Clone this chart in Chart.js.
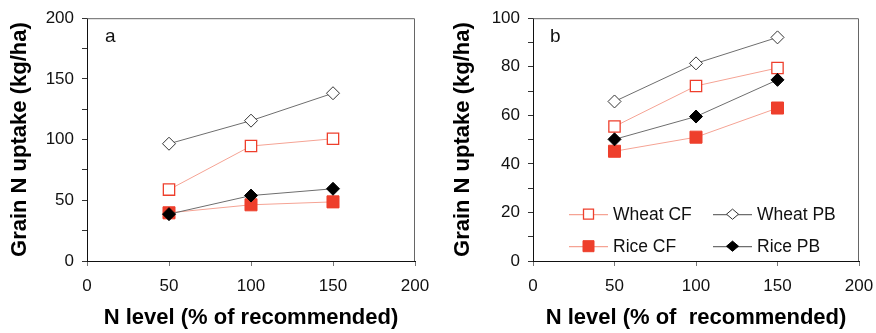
<!DOCTYPE html>
<html><head><meta charset="utf-8">
<script src="https://cdn.jsdelivr.net/npm/chart.js@4"></script>
<style>
html,body{margin:0;padding:0;background:#fff;}
#wrap{position:relative;width:876px;height:333px;overflow:hidden;}
#ca{position:absolute;left:0;top:0;}
#cb{position:absolute;left:440px;top:0;}
</style></head><body>
<div id="wrap">
<canvas id="ca" width="440" height="333"></canvas>
<canvas id="cb" width="436" height="333"></canvas>
</div>
<script>
// ---- data ----
const nLevels = [50, 100, 150];
const seriesNames = ['Wheat CF', 'Wheat PB', 'Rice CF', 'Rice PB'];
const xTitleA = 'N level (% of recommended)';
const xTitleB = 'N level (% of  recommended)';
const yTitle = 'Grain N uptake (kg/ha)';
// panel a
const aWheatCF = [58.8, 94.7, 100.7];
const aWheatPB = [96.6, 115.6, 138.2];
const aRiceCF  = [39.7, 46.3, 48.7];
const aRicePB  = [38.6, 53.9, 59.5];
// panel b
const bWheatCF = [55.4, 72.1, 79.5];
const bWheatPB = [65.7, 81.4, 92.1];
const bRiceCF  = [45.2, 51.0, 63.0];
const bRicePB  = [50.1, 59.5, 74.6];

const RED = '#ee3f2c';
const PINK = '#f5a394';
const GREY = '#6e6e6e';
const FAMILY = '"Liberation Sans", Arial, sans-serif';

function styleFor(name) {
  switch (name) {
    case 'Wheat CF': return {pointStyle:'rect', pointRadius:8, pointBackgroundColor:'#fff', pointBorderColor:RED, pointBorderWidth:1.3, borderColor:PINK, order:2};
    case 'Wheat PB': return {pointStyle:'rectRot', pointRadius:6.5, pointBackgroundColor:'#fff', pointBorderColor:'#333', pointBorderWidth:1, borderColor:GREY, order:3};
    case 'Rice CF':  return {pointStyle:'rect', pointRadius:8.5, pointBackgroundColor:RED, pointBorderColor:RED, pointBorderWidth:1, borderColor:PINK, order:1};
    case 'Rice PB':  return {pointStyle:'rectRot', pointRadius:6.5, pointBackgroundColor:'#000', pointBorderColor:'#000', pointBorderWidth:1, borderColor:GREY, order:0};
  }
}

function makeDatasets(vals) {
  return seriesNames.map((name, i) => Object.assign({
    label: name,
    data: nLevels.map((x, j) => ({x: x, y: vals[i][j]})),
    borderWidth: 1,
    fill: false,
    tension: 0,
    pointHoverRadius: 8
  }, styleFor(name)));
}

const framePlugin = {
  id: 'frame',
  afterDraw(chart, args, opts) {
    const {ctx, chartArea: a} = chart;
    ctx.save();
    ctx.strokeStyle = '#666';
    ctx.lineWidth = 1;
    ctx.beginPath();
    ctx.moveTo(a.left, a.top + 0.5);
    ctx.lineTo(a.right - 0.5, a.top + 0.5);
    ctx.lineTo(a.right - 0.5, a.bottom);
    ctx.stroke();
    ctx.fillStyle = '#111';
    ctx.font = '19px ' + FAMILY;
    ctx.textBaseline = 'middle';
    ctx.textAlign = 'left';
    ctx.fillText(opts.letter, a.left + opts.lx, a.top + 19);
    if (opts.legend) {
      const ds = chart.data.datasets;
      const pos = [[36, 196], [180, 196], [36, 228], [180, 228]];
      ds.forEach((d, i) => {
        const [x0, y] = pos[i];
        const x = a.left + x0;
        ctx.strokeStyle = d.borderColor;
        ctx.lineWidth = 1.3;
        ctx.beginPath();
        ctx.moveTo(x, a.top + y + 0.5);
        ctx.lineTo(x + 39, a.top + y + 0.5);
        ctx.stroke();
        const cx = x + 19.5, cy = a.top + y;
        ctx.fillStyle = d.pointBackgroundColor;
        ctx.strokeStyle = d.pointBorderColor;
        ctx.lineWidth = d.pointBorderWidth;
        ctx.beginPath();
        if (d.pointStyle === 'rect') {
          const s = d.label === 'Rice CF' ? 5.5 : 5;
          ctx.rect(cx - s, cy - s, 2 * s, 2 * s);
        } else {
          const r = 6;
          ctx.moveTo(cx - r, cy); ctx.lineTo(cx, cy - r * 0.85); ctx.lineTo(cx + r, cy); ctx.lineTo(cx, cy + r * 0.85); ctx.closePath();
        }
        ctx.fill(); ctx.stroke();
        ctx.fillStyle = '#111';
        ctx.font = '17.5px ' + FAMILY;
        ctx.textAlign = 'left';
        ctx.textBaseline = 'middle';
        ctx.fillText(d.label, x + 44, cy + 1);
      });
    }
    ctx.restore();
  }
};

const tickFont = {family: FAMILY, size: 17};
const titleFont = {family: FAMILY, size: 22, weight: 'bold'};

function makeChart(id, vals, yMax, yStep, yMajor, yWidth, yTitlePad, rightPad, xTitle, letter, letterX, legend) {
  return new Chart(document.getElementById(id), {
    type: 'line',
    data: {datasets: makeDatasets(vals)},
    plugins: [framePlugin],
    options: {
      responsive: false,
      animation: false,
      devicePixelRatio: 1,
      layout: {padding: {top: 16, right: rightPad, left: 0, bottom: 0}},
      plugins: {
        legend: {display: false},
        tooltip: {enabled: false},
        frame: {letter: letter, lx: letterX, legend: legend}
      },
      scales: {
        x: {
          type: 'linear', min: 0, max: 200,
          ticks: {stepSize: 50, font: tickFont, color: '#111', padding: 10, maxRotation: 0},
          grid: {display: true, drawOnChartArea: false, drawTicks: true, tickLength: 5, tickColor: '#777'},
          border: {display: true, color: '#111', width: 1},
          title: {display: true, text: xTitle, font: titleFont, color: '#000', padding: {top: 0, bottom: 2}},
          afterFit(s) { s.height = 72; s.paddingRight = 0; s.paddingLeft = 0; }
        },
        y: {
          type: 'linear', min: 0, max: yMax,
          ticks: {stepSize: yStep, font: tickFont, color: '#111', padding: 8,
                  callback: (v) => (v % yMajor === 0 ? String(v) : '')},
          grid: {display: true, drawOnChartArea: false, drawTicks: true, tickLength: 5, tickColor: '#333'},
          border: {display: true, color: '#111', width: 1},
          title: {display: true, text: yTitle, font: titleFont, color: '#000', padding: {top: yTitlePad, bottom: 0}},
          afterFit(s) { s.width = yWidth; }
        }
      }
    }
  });
}

makeChart('ca', [aWheatCF, aWheatPB, aRiceCF, aRicePB], 200, 25, 50, 87, 7, 25, xTitleA, 'a', 18, false);
makeChart('cb', [bWheatCF, bWheatPB, bRiceCF, bRicePB], 100, 10, 20, 93, 10, 17, xTitleB, 'b', 17, true);
</script>
</body></html>
